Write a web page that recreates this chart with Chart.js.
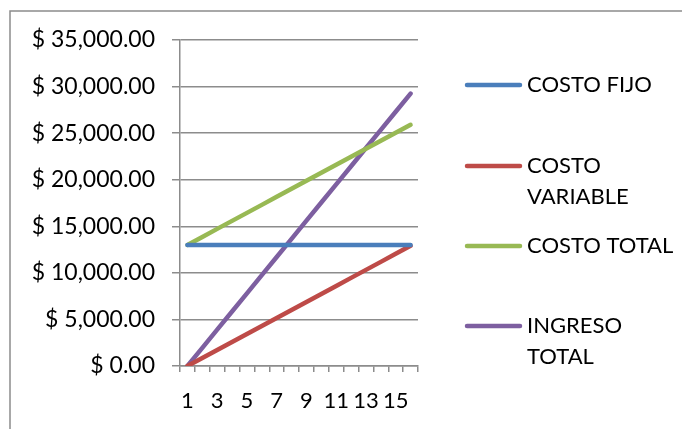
<!DOCTYPE html>
<html>
<head>
<meta charset="utf-8">
<script src="https://cdn.jsdelivr.net/npm/chart.js@4/dist/chart.umd.min.js"></script>
<style>
  html, body { margin: 0; padding: 0; background: #fff; }
  #wrap { position: relative; width: 682px; height: 429px; }
</style>
</head>
<body>
<div id="wrap"><canvas id="equilibrio" width="682" height="429"></canvas></div>
<script>
// unidades
const unidades = ['1', '2', '3', '4', '5', '6', '7', '8', '9', '10', '11', '12', '13', '14', '15', '16'];

// series
const costoFijo = [13000, 13000, 13000, 13000, 13000, 13000, 13000, 13000, 13000, 13000, 13000, 13000, 13000, 13000, 13000, 13000];
const costoVariable = [0, 860, 1720, 2580, 3440, 4300, 5160, 6020, 6880, 7740, 8600, 9460, 10320, 11180, 12040, 12900];
const costoTotal = [13000, 13860, 14720, 15580, 16440, 17300, 18160, 19020, 19880, 20740, 21600, 22460, 23320, 24180, 25040, 25900];
const ingresoTotal = [0, 1950, 3900, 5850, 7800, 9750, 11700, 13650, 15600, 17550, 19500, 21450, 23400, 25350, 27300, 29250];

// etiquetas de leyenda (con salto de linea)
const leyenda = [['COSTO FIJO'], ['COSTO', 'VARIABLE'], ['COSTO TOTAL'], ['INGRESO', 'TOTAL']];

const FUENTE = 'Lato, "Open Sans", sans-serif';
const GRIS = '#8c8c8c';

const serie = (label, data, color) => ({
    label: label,
    data: data,
    borderColor: color,
    backgroundColor: color,
    borderWidth: 4.5,
    borderCapStyle: 'round',
    pointRadius: 0,
    fill: false,
    tension: 0
});

// marco del grafico y leyenda a la derecha
const marcoYLeyenda = {
    id: 'marcoYLeyenda',
    beforeDraw(chart) {
        const c = chart.ctx;
        c.save();
        c.strokeStyle = GRIS;
        c.lineWidth = 1.5;
        c.beginPath();
        c.moveTo(10, chart.height);
        c.lineTo(10, 11);
        c.lineTo(chart.width, 11);
        c.stroke();
        c.restore();
    },
    afterDraw(chart) {
        const c = chart.ctx;
        const filas = [85, 166, 246, 326];
        c.save();
        c.font = '22px ' + FUENTE;
        c.textBaseline = 'middle';
        chart.data.datasets.forEach((ds, i) => {
            const y = filas[i];
            c.strokeStyle = ds.borderColor;
            c.lineWidth = 4.5;
            c.lineCap = 'round';
            c.beginPath();
            c.moveTo(467, y);
            c.lineTo(520, y);
            c.stroke();
            c.fillStyle = '#000';
            leyenda[i].forEach((t, j) => c.fillText(t, 527, y + j * 31));
        });
        c.restore();
    }
};

const ctx = document.getElementById('equilibrio').getContext('2d');
new Chart(ctx, {
    type: 'line',
    data: {
        labels: unidades,
        datasets: [
            serie('COSTO FIJO', costoFijo, '#4a7ebb'),
            serie('COSTO VARIABLE', costoVariable, '#be4b48'),
            serie('COSTO TOTAL', costoTotal, '#98b954'),
            serie('INGRESO TOTAL', ingresoTotal, '#7d5fa0')
        ]
    },
    plugins: [marcoYLeyenda],
    options: {
        responsive: false,
        animation: false,
        layout: { padding: { top: 40, right: 264, left: 0, bottom: 0 } },
        plugins: { legend: { display: false }, tooltip: { enabled: false } },
        scales: {
            x: {
                offset: true,
                grid: { offset: true, drawOnChartArea: false, drawTicks: true, tickLength: 6, color: GRIS, lineWidth: 1.5 },
                border: { color: GRIS, width: 1.5 },
                ticks: {
                    autoSkip: false,
                    maxRotation: 0,
                    padding: 16,
                    color: '#000',
                    font: { family: FUENTE, size: 22 },
                    callback: (v, i) => (i % 2 === 0 ? unidades[i] : '')
                },
                afterFit: (s) => { s.height = 63; }
            },
            y: {
                min: 0,
                max: 35000,
                grid: { color: GRIS, lineWidth: 1.5, tickLength: 8 },
                border: { color: GRIS, width: 1.5 },
                ticks: {
                    stepSize: 5000,
                    padding: 17,
                    color: '#000',
                    font: { family: FUENTE, size: 23 },
                    callback: (v) => '$ ' + v.toLocaleString('en-US', { minimumFractionDigits: 2, maximumFractionDigits: 2 })
                },
                afterFit: (s) => { s.width = 180; }
            }
        }
    }
});
</script>
</body>
</html>
